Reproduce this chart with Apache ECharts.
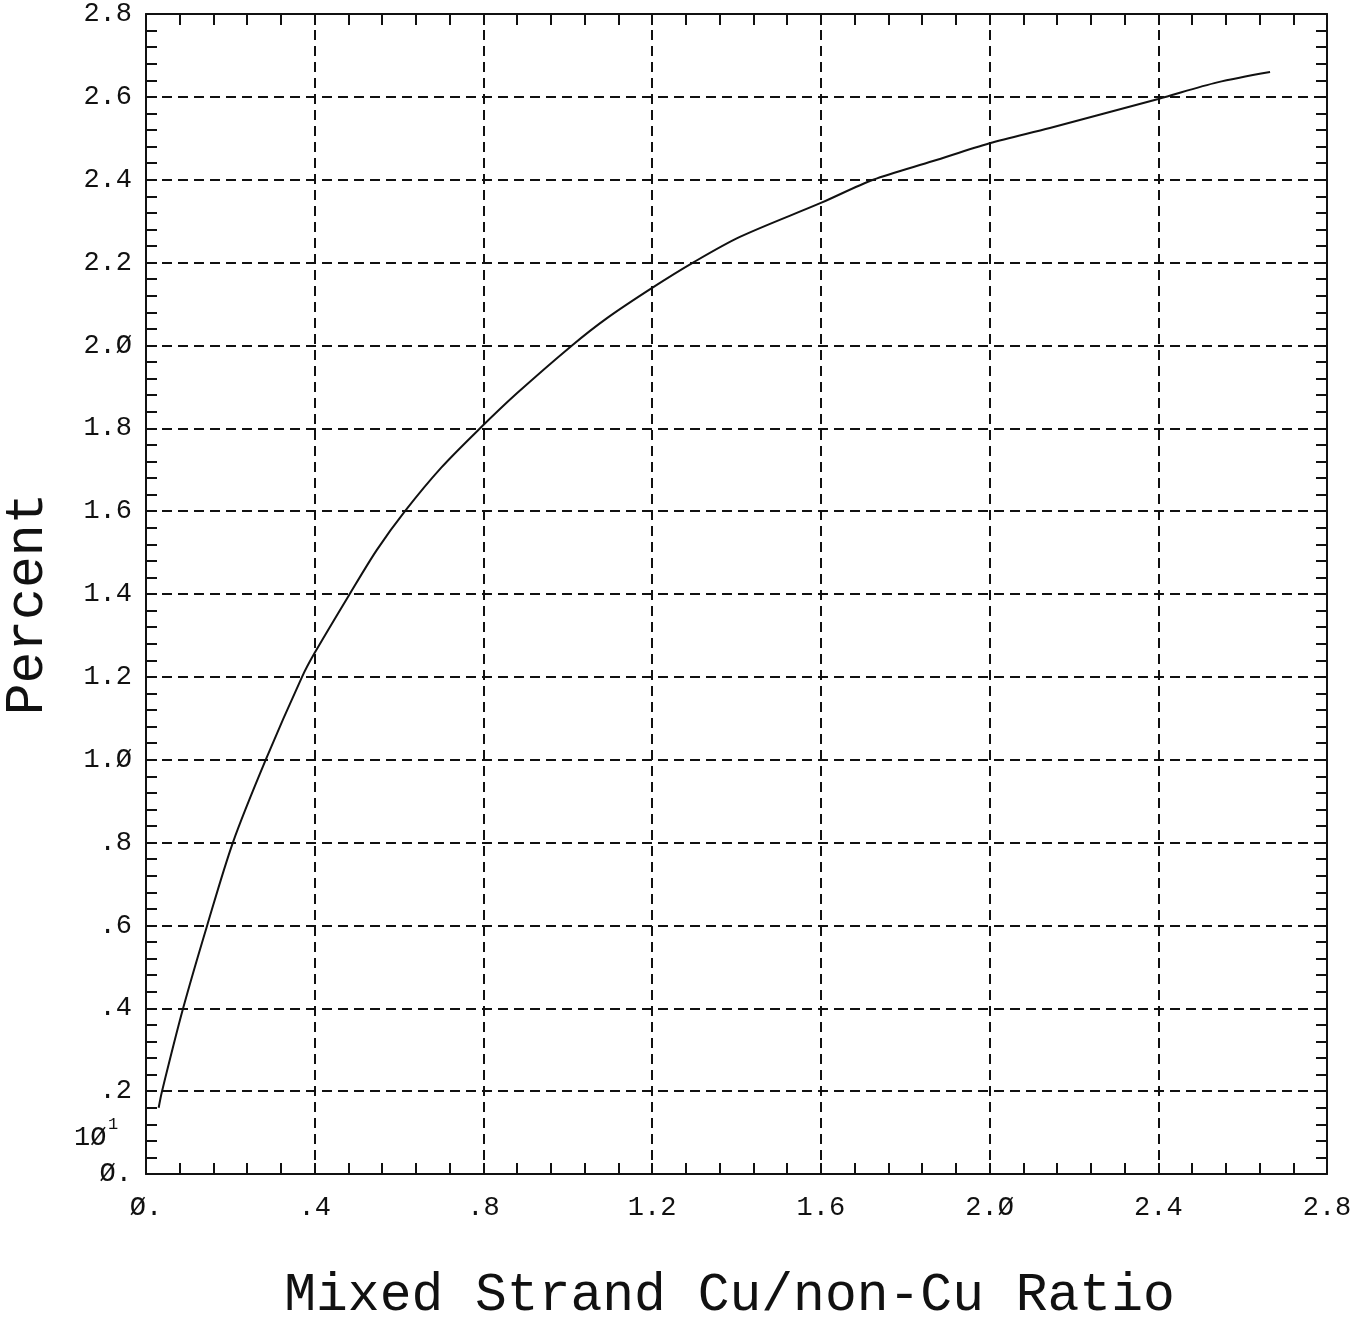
<!DOCTYPE html>
<html>
<head>
<meta charset="utf-8">
<script src="https://cdn.jsdelivr.net/npm/echarts@6/dist/echarts.min.js"></script>
<style>
  html, body { margin: 0; padding: 0; background: #fff; }
  #main { width: 1365px; height: 1321px; }
</style>
</head>
<body>
<div id="main"></div>
<script>
var ratio = [0.03, 0.038, 0.088, 0.145, 0.206, 0.284, 0.37, 0.4, 0.483, 0.547, 0.614, 0.7, 0.792, 0.88, 1.01, 1.093, 1.2, 1.297, 1.408, 1.6, 1.724, 1.866, 2.0, 2.143, 2.4, 2.54, 2.665];
var percent = [0.16, 0.2, 0.4, 0.6, 0.8, 1.0, 1.2, 1.258, 1.4, 1.506, 1.6, 1.705, 1.8, 1.885, 2.0, 2.066, 2.139, 2.2, 2.262, 2.344, 2.4, 2.445, 2.488, 2.525, 2.595, 2.635, 2.66];
var xTicks = ['Ø.', '.4', '.8', '1.2', '1.6', '2.Ø', '2.4', '2.8'];
var yTicks = ['Ø.', '.2', '.4', '.6', '.8', '1.Ø', '1.2', '1.4', '1.6', '1.8', '2.Ø', '2.2', '2.4', '2.6', '2.8'];

var chart = echarts.init(document.getElementById('main'));

var font = 'Liberation Mono';
var ink = '#111';

function tickLabel(list, step) {
	return function (v) {
		var i = Math.round(v / step);
		return list[i] !== undefined ? list[i] : '';
	};
}

// frame with small inward ticks on all four sides
var frame = {
	show: true,
	onZero: false,
	lineStyle: { color: ink, width: 2 }
};
var ticks = { show: true, inside: true, length: 11, lineStyle: { color: ink, width: 2 } };
var minor = { show: true, splitNumber: 5, length: 11, lineStyle: { color: ink, width: 2 } };

var box = { left: 146, top: 14, width: 1181, height: 1160, containLabel: false, outerBoundsMode: 'none' };

option = {
	backgroundColor: '#fff',
	animation: false,
	grid: box,
	xAxis: [{
		type: 'value',
		min: 0,
		max: 2.8,
		interval: 0.4,
		position: 'bottom',
		axisLine: frame,
		axisTick: ticks,
		minorTick: minor,
		axisLabel: {
			margin: 20,
			color: ink,
			fontFamily: font,
			fontSize: 27,
			formatter: tickLabel(xTicks, 0.4)
		},
		splitLine: {
			show: true,
			lineStyle: { color: ink, width: 2, type: [10, 6] }
		},
		name: 'Mixed Strand Cu/non-Cu Ratio',
		nameLocation: 'middle',
		nameGap: 95,
		nameTextStyle: {
			color: ink,
			fontFamily: font,
			fontSize: 53,
			padding: [0, 14, 0, 0]
		}
	}, {
		type: 'value',
		min: 0,
		max: 2.8,
		interval: 0.4,
		position: 'top',
		axisLine: frame,
		axisTick: ticks,
		minorTick: minor,
		axisLabel: { show: false },
		splitLine: { show: false }
	}],
	yAxis: [{
		type: 'value',
		min: 0,
		max: 2.8,
		interval: 0.2,
		position: 'left',
		axisLine: frame,
		axisTick: ticks,
		minorTick: minor,
		axisLabel: {
			margin: 14,
			padding: [10, 0, 0, 0],
			color: ink,
			fontFamily: font,
			fontSize: 27,
			formatter: tickLabel(yTicks, 0.2)
		},
		splitLine: {
			show: true,
			lineStyle: { color: ink, width: 2, type: [10, 6] }
		},
		name: 'Percent',
		nameLocation: 'middle',
		nameRotate: 90,
		nameGap: 92,
		nameTextStyle: {
			color: ink,
			fontFamily: font,
			fontSize: 53,
			padding: [0, 20, 0, 0]
		}
	}, {
		type: 'value',
		min: 0,
		max: 2.8,
		interval: 0.2,
		position: 'right',
		axisLine: frame,
		axisTick: ticks,
		minorTick: minor,
		axisLabel: { show: false },
		splitLine: { show: false }
	}],
	graphic: [{
		type: 'text',
		left: 74,
		top: 1124,
		style: { text: '1Ø', fill: ink, font: '27px "Liberation Mono"' }
	}, {
		type: 'text',
		left: 108,
		top: 1116,
		style: { text: '1', fill: ink, font: '17px "Liberation Mono"' }
	}],
	series: [{
		type: 'line',
		xAxisIndex: 0,
		yAxisIndex: 0,
		smooth: 0.3,
		showSymbol: false,
		lineStyle: { color: ink, width: 2 },
		data: ratio.map(function (x, i) { return [x, percent[i]]; })
	}]
};

chart.setOption(option);

window.onresize = function () {
	chart.resize();
};
</script>
</body>
</html>
